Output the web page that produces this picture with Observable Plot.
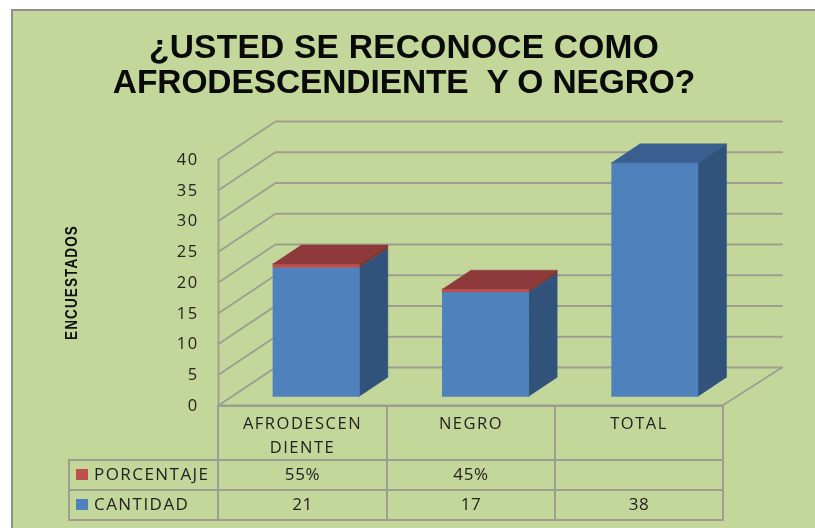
<!DOCTYPE html>
<html lang="es">
<head>
<meta charset="utf-8">
<script src="https://cdn.jsdelivr.net/npm/d3@7"></script>
<script src="https://cdn.jsdelivr.net/npm/@observablehq/plot@0.6"></script>
<style>
html,body{margin:0;padding:0;background:#fff;overflow:hidden}
#page{position:relative;width:815px;height:528px;overflow:hidden;filter:blur(.5px)}
#frame{position:absolute;left:11px;top:9px;width:806px;height:521px;background:#c4d79b;border-left:2px solid #8e8e8e;border-top:2px solid #8e8e8e;box-sizing:border-box}
#title{position:absolute;left:0;width:808px;top:30px;text-align:center;font:bold 33.5px/34.5px "Liberation Sans",sans-serif;color:#0a0a0a}
#title div{white-space:pre;letter-spacing:.25px}
#title div + div{letter-spacing:-.1px}
#chart{position:absolute;left:0;top:110px}
#chart svg{background:transparent;display:block}
#chart svg text{letter-spacing:1.4px}
table{position:absolute;left:68px;top:405px;border-collapse:collapse;table-layout:fixed;font:17px "Open Sans",sans-serif;color:#222;letter-spacing:.6px}
td{border:2px solid #9b9e90;padding:0;text-align:center;box-sizing:border-box;overflow:hidden}
td.blank{border:none}
tr.head td{height:53px;vertical-align:top;padding-top:4px;line-height:24px;letter-spacing:1.5px;font-size:16.5px}
tr.row td{height:30px;padding-bottom:3px}
td.name{text-align:left;padding-left:6px;white-space:nowrap;letter-spacing:1.45px;font-size:17px}
.sw{display:inline-block;width:12px;height:11px;margin-right:6px}
</style>
</head>
<body>
<div id="page">
  <div id="frame"></div>
  <div id="title"></div>
  <div id="chart"></div>
  <table id="tbl"></table>
</div>
<script>
const titleLines = ["¿USTED SE RECONOCE COMO", "AFRODESCENDIENTE  Y O NEGRO?"];
const yLabel = "ENCUESTADOS";
const categories = ["AFRODESCEN DIENTE", "NEGRO", "TOTAL"];
const cantidad = [21, 17, 38];
const porcentaje = [55, 45, null];
const yTicks = [0, 5, 10, 15, 20, 25, 30, 35, 40];

const BLUE = {front: "#4f81bd", side: "#30527b", top: "#385f90"};
const RED = {front: "#c0504d", side: "#7d3331", top: "#8e3a3a"};

// Oblique projection of the 3D box onto the two plot scales, in data units.
const depthX = 0.339, depthY = 6.18, barWidth = 0.516, barStart = 0.242, barStep = 1.008, barDepthStart = 0.237, barDepth = 0.5;
const project = (c, v, d) => ({px: c + d * depthX, py: v + d * depthY});

const gridPts = yTicks.flatMap(v => [
  {...project(0, v, 0), k: v},
  {...project(0, v, 1), k: v},
  {...project(3.015, v, 1), k: v}
]);
const wallAxis = [project(0, 0, 0), project(0, 40, 0)];
const floorEdges = [
  {...project(0, 0, 0), k: "front"}, {...project(3, 0, 0), k: "front"},
  {...project(3, 0, 0), k: "right"}, {...project(3.015, 0, 1), k: "right"}
];

function box(i, lo, hi, pal, withTop) {
  const c0 = i * barStep + barStart, c1 = c0 + barWidth, d0 = barDepthStart, d1 = d0 + barDepth;
  const face = (name, pts) => pts.map(p => ({...project(...p), face: `${i}-${lo}-${name}`, color: pal[name]}));
  const out = [
    ...face("side", [[c1, lo, d0], [c1, hi, d0], [c1, hi, d1], [c1, lo, d1]]),
    ...face("front", [[c0, lo, d0], [c1, lo, d0], [c1, hi, d0], [c0, hi, d0]])
  ];
  if (withTop) out.push(...face("top", [[c0, hi, d0], [c1, hi, d0], [c1, hi, d1], [c0, hi, d1]]));
  return out;
}
const faces = categories.flatMap((_, i) => {
  const q = cantidad[i], r = porcentaje[i] == null ? 0 : porcentaje[i] / 100;
  return r ? [...box(i, 0, q, BLUE, false), ...box(i, q, q + r, RED, true)] : box(i, 0, q, BLUE, true);
});
const faceMarks = d3.groups(faces, d => d.face).map(([, pts]) =>
  Plot.line(pts, {x: "px", y: "py", fill: pts[0].color, stroke: pts[0].color, strokeWidth: 0.5})
);

const plot = Plot.plot({
  width: 815, height: 330,
  marginLeft: 218, marginRight: 93, marginTop: 49, marginBottom: 35,
  x: {domain: [0, 3], axis: null},
  y: {domain: [0, 40], axis: null},
  marks: [
    Plot.line(gridPts, {x: "px", y: "py", z: "k", stroke: "#9b9e90", strokeWidth: 1.8}),
    Plot.line(wallAxis, {x: "px", y: "py", stroke: "#9b9e90", strokeWidth: 1.8}),
    Plot.line(floorEdges, {x: "px", y: "py", z: "k", stroke: "#9b9e90", strokeWidth: 1.8}),
    ...faceMarks,
    Plot.axisY({ticks: yTicks, tickSize: 0, tickPadding: 20, fontSize: 16.5, fontFamily: "Open Sans", fill: "#222", label: null, tickFormat: d => d}),
    Plot.text([yLabel], {
      frameAnchor: "left", textAnchor: "middle", dx: -147, rotate: -90,
      fontFamily: "Liberation Sans", fontWeight: "bold", fontSize: 17, fill: "#111"
    })
  ]
});
d3.select(plot).selectAll("text").filter(function () { return this.textContent === yLabel; })
  .selectAll(function () { return [this].concat([...this.querySelectorAll("tspan")]); })
  .attr("textLength", function () { return this.textContent === yLabel ? 115 : null; })
  .attr("lengthAdjust", "spacingAndGlyphs");
document.getElementById("chart").append(plot);
d3.select("#title").selectAll("div").data(titleLines).join("div").text(d => d);

const tbl = d3.select("#tbl");
const colW = [149, 169, 168, 168];
tbl.append("colgroup").selectAll("col").data(colW).join("col").style("width", d => d + "px");
const head = tbl.append("tr").attr("class", "head");
head.append("td").attr("class", "blank");
head.selectAll("td.c").data(categories).join("td").attr("class", "c").html(d => d.replace(" ", "<br>"));
const rows = [
  {name: "PORCENTAJE", color: RED.front, vals: porcentaje.map(p => p == null ? "" : p + "%")},
  {name: "CANTIDAD", color: BLUE.front, vals: cantidad.map(String)}
];
rows.forEach(r => {
  const tr = tbl.append("tr").attr("class", "row");
  const n = tr.append("td").attr("class", "name");
  n.append("span").attr("class", "sw").style("background", r.color);
  n.append("span").text(r.name);
  r.vals.forEach(v => tr.append("td").text(v));
});
</script>
</body>
</html>
